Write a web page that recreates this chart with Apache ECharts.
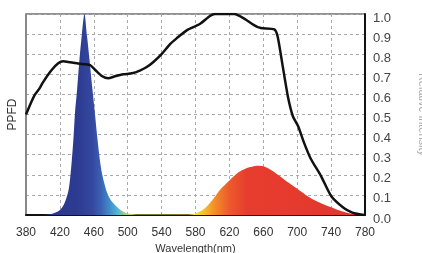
<!DOCTYPE html>
<html>
<head>
<meta charset="utf-8">
<style>
  html, body { margin: 0; padding: 0; background: #fff; }
  #chart { width: 422px; height: 253px; }
</style>
<script src="https://cdn.jsdelivr.net/npm/echarts@6/dist/echarts.min.js"></script>
</head>
<body>
<div id="chart"></div>
<script>
var chartDom = document.getElementById('chart');
var myChart = echarts.init(chartDom);

// spectrum of the lamp (filled area)
var spectrumNm = [380, 390, 400, 405, 410, 415, 420, 425, 430, 432, 434, 436, 438, 440, 443, 446, 449,
  452, 455, 458, 461, 464, 467, 470, 475, 480, 485, 490, 495, 500, 510, 530, 560, 575, 580, 590,
  600, 610, 620, 630, 640, 650, 655, 660, 670, 680, 690, 700, 710, 720, 730, 740, 750, 760, 770, 780];
var spectrumVal = [0, 0, 0, 0.002, 0.005, 0.012, 0.025, 0.055, 0.12, 0.18, 0.27, 0.38, 0.52, 0.61, 0.77, 0.9, 1.0,
  0.89, 0.77, 0.64, 0.52, 0.39, 0.28, 0.2, 0.12, 0.075, 0.05, 0.03, 0.016, 0.007, 0.003, 0.002, 0.002, 0.004, 0.008, 0.03,
  0.075, 0.13, 0.172, 0.21, 0.233, 0.244, 0.245, 0.242, 0.222, 0.192, 0.16, 0.13, 0.1, 0.075, 0.055, 0.038, 0.022, 0.01, 0.003, 0];

// PPFD curve (black line)
var ppfdNm = [380, 385, 390, 396, 400, 410, 418, 424, 432, 440, 450, 456, 462, 470, 477, 485, 495, 505, 515, 522,
  530, 540, 550, 558, 570, 585, 597, 603, 626, 637, 649, 657, 673, 677, 683, 689, 695, 701, 708, 716, 728,
  740, 755, 765, 772, 780];
var ppfdVal = [0.5, 0.55, 0.595, 0.63, 0.66, 0.72, 0.755, 0.765, 0.76, 0.755, 0.75, 0.745, 0.72, 0.69, 0.68, 0.69, 0.7, 0.705, 0.72, 0.735,
  0.76, 0.8, 0.85, 0.88, 0.92, 0.95, 0.99, 1.0, 1.0, 0.978, 0.945, 0.93, 0.924, 0.887, 0.738, 0.59, 0.49, 0.443, 0.36, 0.28, 0.195,
  0.095, 0.035, 0.012, 0.005, 0];

var xMin = 380, xMax = 780, xStep = 40;

function zip(a, b) {
  return a.map(function (v, i) { return [v, b[i]]; });
}

// colour of each wavelength, used as a horizontal gradient
function stop(nm, color) {
  return { offset: (nm - xMin) / (xMax - xMin), color: color };
}
var spectrumColors = [
  stop(380, '#28368a'), stop(440, '#2c3b91'), stop(458, '#34479f'), stop(468, '#3b5fb3'),
  stop(478, '#3f8ac9'), stop(488, '#4fb6d8'), stop(498, '#a6d471'), stop(520, '#e8e040'),
  stop(578, '#f7e23a'), stop(590, '#f6c02b'), stop(602, '#f28f2a'), stop(620, '#ec5a2b'),
  stop(640, '#e73d2e'), stop(780, '#e2352d')
];

var font = 'Liberation Sans, Arial, sans-serif';

var option = {
  animation: false,
  textStyle: { fontFamily: font },
  grid: {
    left: 26,
    right: 57,
    top: 14,
    bottom: 38,
    outerBoundsMode: 'none',
    show: true,
    borderColor: '#222',
    borderWidth: 1
  },
  xAxis: {
    type: 'value',
    min: xMin,
    max: xMax,
    interval: xStep,
    name: 'Wavelength(nm)',
    nameLocation: 'middle',
    nameGap: 23,
    nameTextStyle: { color: '#333', fontSize: 11, fontFamily: font },
    axisLine: { lineStyle: { color: '#111', width: 2 } },
    axisTick: { show: false },
    axisLabel: { color: '#333', fontSize: 12, margin: 12, fontFamily: font },
    splitLine: { show: true, lineStyle: { color: '#aaa', type: [3, 3], width: 1 } }
  },
  yAxis: [
    {
      type: 'value',
      position: 'right',
      min: 0,
      max: 1,
      interval: 0.1,
      name: 'Relative intensity',
      nameLocation: 'middle',
      nameRotate: -90,
      nameGap: 52,
      nameTextStyle: { color: '#aaa', fontSize: 11, fontFamily: font },
      axisLine: { show: true, lineStyle: { color: '#111', width: 2 } },
      axisTick: { show: false },
      axisLabel: {
        color: '#444', fontSize: 13, margin: 8, fontFamily: font,
        verticalAlign: 'top',
        lineHeight: 8,
        formatter: function (v) { return v.toFixed(1); }
      },
      splitLine: { show: true, lineStyle: { color: '#aaa', type: [3, 3], width: 1 } }
    },
    {
      type: 'value',
      position: 'left',
      min: 0,
      max: 1,
      interval: 0.1,
      name: 'PPFD',
      nameLocation: 'middle',
      nameGap: 7,
      nameTextStyle: { color: '#333', fontSize: 12, fontFamily: font },
      axisLine: { show: true, lineStyle: { color: '#888', width: 2 } },
      axisTick: { show: false },
      axisLabel: { show: false },
      splitLine: { show: false }
    }
  ],
  series: [
    {
      name: 'Spectrum',
      type: 'line',
      yAxisIndex: 0,
      smooth: 0.3,
      symbol: 'none',
      lineStyle: { width: 0 },
      areaStyle: {
        opacity: 1,
        color: { type: 'linear', x: 0, y: 0, x2: 1, y2: 0, colorStops: spectrumColors }
      },
      data: zip(spectrumNm, spectrumVal),
      z: 2
    },
    {
      name: 'PPFD',
      type: 'line',
      yAxisIndex: 0,
      smooth: 0.2,
      symbol: 'none',
      lineStyle: { color: '#111', width: 2.5 },
      data: zip(ppfdNm, ppfdVal),
      z: 3
    }
  ]
};

myChart.setOption(option);
</script>
</body>
</html>
